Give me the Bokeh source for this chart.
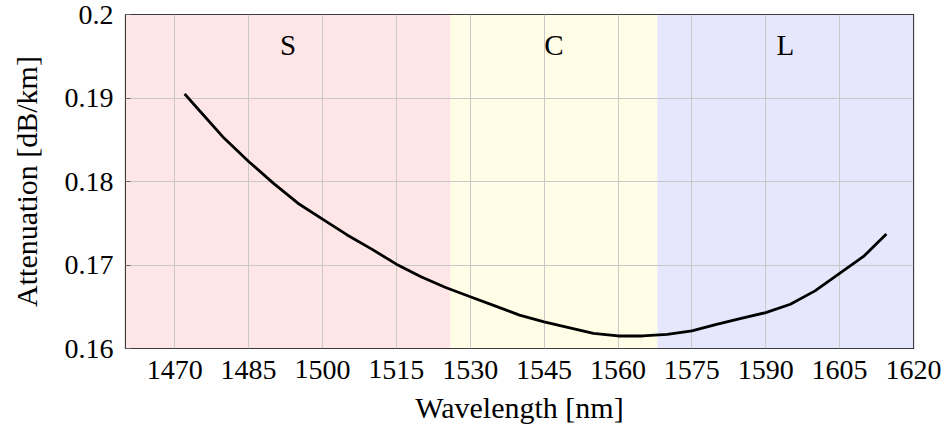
from bokeh.plotting import figure
from bokeh.models import Range1d, FixedTicker, ColumnDataSource
from bokeh.core.properties import value
from bokeh.embed import file_html
from bokeh.resources import INLINE

# ---- data ----
wavelength = [1472, 1475, 1480, 1485, 1490, 1495, 1500, 1505, 1510, 1515,
              1520, 1525, 1530, 1535, 1540, 1545, 1550, 1555, 1560, 1565,
              1570, 1575, 1580, 1585, 1590, 1595, 1600, 1605, 1610, 1614.5]
attenuation = [0.1905, 0.1885, 0.1852, 0.1824, 0.1798, 0.1774, 0.1755, 0.1736, 0.1719, 0.1701,
               0.1686, 0.1673, 0.1662, 0.1651, 0.1640, 0.1632, 0.1625, 0.1618, 0.1615, 0.1615,
               0.1617, 0.1621, 0.1629, 0.1636, 0.1643, 0.1653, 0.1669, 0.1690, 0.1711, 0.1737]

band_names = ["S", "C", "L"]
band_start = [1460, 1526, 1568]
band_end = [1526, 1568, 1620]
band_colors = ["#ffe6e6", "#fffde6", "#e6e6fd"]

x_ticks = [1470, 1485, 1500, 1515, 1530, 1545, 1560, 1575, 1590, 1605, 1620]
x_tick_labels = [str(t) for t in x_ticks]
y_ticks = [0.16, 0.17, 0.18, 0.19, 0.2]
y_tick_labels = ["0.16", "0.17", "0.18", "0.19", "0.2"]

SERIF = "Times New Roman"
TINY = 0.0001          # tiny label angle keeps the serif font
X0, X1 = 1460, 1620
FRAME_W = 945 - 125 - 32
LABEL_HALF_PX = 28     # half the width of a 4-digit label at 28px
shift = LABEL_HALF_PX * (X1 - X0) / FRAME_W

p = figure(width=945, height=435, output_backend="svg", toolbar_location=None,
           x_range=Range1d(X0, X1), y_range=Range1d(0.16, 0.2),
           min_border_left=125, min_border_right=32, min_border_top=14, min_border_bottom=87)
p.outline_line_color = "black"
p.outline_line_width = 1.2

band_src = ColumnDataSource(dict(left=band_start, right=band_end, color=band_colors,
                                 name=band_names,
                                 xc=[(a + b) / 2 for a, b in zip(band_start, band_end)],
                                 yc=[0.1963] * 3))
p.quad(left="left", right="right", bottom=0.16, top=0.2, fill_color="color",
       line_color=None, source=band_src, level="image")
p.line(wavelength, attenuation, line_color="black", line_width=2.8)
p.text(x="xc", y="yc", text="name", source=band_src, text_font=value(SERIF),
       text_font_size="29px", text_align="center", text_baseline="middle", text_color="black")

# grid at the real tick positions
p.xgrid.ticker = FixedTicker(ticks=x_ticks)
p.ygrid.ticker = FixedTicker(ticks=y_ticks)
for g in (p.xgrid, p.ygrid):
    g.grid_line_color = "#c8c8c8"

# x labels: left-aligned (negative tiny angle), so anchor them half a label to the left
shifted = [t - shift for t in x_ticks]
p.xaxis.ticker = FixedTicker(ticks=shifted)
p.xaxis.major_label_overrides = {s: l for s, l in zip(shifted, x_tick_labels)}
p.xaxis.major_tick_line_color = None
p.xaxis.major_label_orientation = -TINY

p.yaxis.ticker = FixedTicker(ticks=y_ticks)
p.yaxis.major_label_overrides = {t: l for t, l in zip(y_ticks, y_tick_labels)}
p.yaxis.major_label_orientation = TINY
p.yaxis.major_tick_line_color = "#666666"

for ax in (p.xaxis, p.yaxis):
    ax.axis_line_color = None
    ax.major_tick_in = 5
    ax.major_tick_out = 0
    ax.minor_tick_line_color = None
    ax.major_label_text_font = SERIF
    ax.major_label_text_font_size = "28px"
    ax.major_label_text_color = "black"
    ax.axis_label_text_font = SERIF
    ax.axis_label_text_font_size = "30px"
    ax.axis_label_text_font_style = "normal"
    ax.axis_label_text_color = "black"

p.xaxis.axis_label = "Wavelength [nm]"
p.yaxis.axis_label = "Attenuation [dB/km]"
p.xaxis.major_label_standoff = 21
p.xaxis.axis_label_standoff = 0
p.yaxis.major_label_standoff = 12
p.yaxis.axis_label_standoff = 18

open("out.html", "w").write(file_html(p, INLINE))
